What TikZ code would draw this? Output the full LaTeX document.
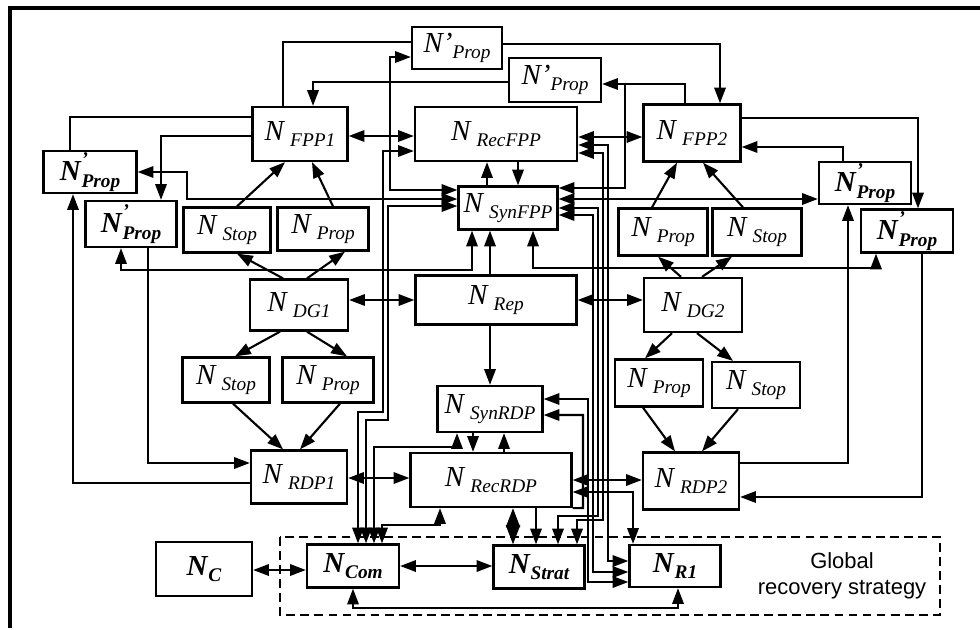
\documentclass[tikz,border=0pt]{standalone}
\usepackage{fontspec}
\setmainfont{Liberation Serif}
\newfontfamily\gsans{Liberation Sans}
\usetikzlibrary{arrows.meta,calc}
\newcommand{\sbf}{\fontsize{11}{12}\selectfont}
\newcommand{\nn}[1]{\textit{N}\,\raisebox{-0.5ex}{\sbf\textit{#1}}}
\newcommand{\nb}[1]{\textbf{\textit{N}}\raisebox{-0.5ex}{\sbf\bfseries\itshape #1}}
\newcommand{\np}{\textit{N'}\raisebox{-0.5ex}{\sbf\textit{Prop}}}
\newcommand{\nq}{\textbf{\textit{N}}\rlap{\raisebox{1.1ex}{\sbf\bfseries\itshape '}}\raisebox{-0.5ex}{\sbf\bfseries\itshape Prop}}
\tikzset{
  blk/.style={draw, line width=1.3pt, inner sep=0pt, font=\fontsize{16.5}{18}\selectfont},
  sz/.style 2 args={minimum width=#1*0.02cm, minimum height=#2*0.02cm},
  ln/.style={line width=1.2pt},
  arr/.style={ln, -{Triangle[length=9pt,width=6.5pt]}},
  darr/.style={ln, {Triangle[length=9pt,width=6.5pt]}-{Triangle[length=9pt,width=6.5pt]}},
}

\begin{document}
\begin{tikzpicture}[x=0.02cm, y=-0.02cm]
\useasboundingbox (0,0) rectangle (980,629);
\draw[line width=1.8pt] (10,628) -- (10,8) -- (980,8);

% nodes
\node[blk, sz={90}{42}] (propA) at (457,48) {\np};
\node[blk, sz={92}{44}] (propB) at (555,80) {\np};
\node[blk, sz={95}{54}] (fpp1) at (300,134) {\nn{FPP1}};
\node[blk, sz={162}{54}] (recfpp) at (496,134) {\nn{RecFPP}};
\node[blk, sz={97}{57}] (fpp2) at (692,133) {\nn{FPP2}};
\node[blk, sz={93}{42}] (propL1) at (90,172) {\nq};
\node[blk, sz={91}{46}] (propL2) at (131,224) {\nq};
\node[blk, sz={87}{45}] (stopFL) at (227,230) {\nn{Stop}};
\node[blk, sz={91}{43}] (propFL) at (323,229) {\nn{Prop}};
\node[blk, sz={99}{43}] (synfpp) at (508,208) {\nn{SynFPP}};
\node[blk, sz={92}{42}] (propR1) at (865,183) {\nq};
\node[blk, sz={92}{43}] (propR2) at (907,231) {\nq};
\node[blk, sz={89}{47}] (propFR) at (663,232) {\nn{Prop}};
\node[blk, sz={89}{47}] (stopFR) at (757,232) {\nn{Stop}};
\node[blk, sz={98}{51}] (dg1) at (299,305) {\nn{DG1}};
\node[blk, sz={161}{49}] (rep) at (496,300) {\nn{Rep}};
\node[blk, sz={98}{54}] (dg2) at (693,305) {\nn{DG2}};
\node[blk, sz={87}{45}] (stopRL) at (226,380) {\nn{Stop}};
\node[blk, sz={91}{45}] (propRL) at (328,380) {\nn{Prop}};
\node[blk, sz={105}{46}] (synrdp) at (490,409) {\nn{SynRDP}};
\node[blk, sz={88}{47}] (propRR) at (659,383) {\nn{Prop}};
\node[blk, sz={88}{46}] (stopRR) at (756,385) {\nn{Stop}};
\node[blk, sz={96}{53}] (rdp1) at (299,477) {\nn{RDP1}};
\node[blk, sz={161}{54}] (recrdp) at (491,480) {\nn{RecRDP}};
\node[blk, sz={96}{57}] (rdp2) at (691,481) {\nn{RDP2}};
\node[blk, sz={96}{54}] (nc) at (204,569) {\nb{C}};
\node[blk, sz={92}{43}] (ncom) at (353,566) {\nb{Com}};
\node[blk, sz={91}{43}] (nstrat) at (539,567) {\nb{Strat}};
\node[blk, sz={91}{42}] (nr1) at (675,566) {\nb{R1}};

\draw[line width=1.2pt, dash pattern=on 5pt off 3pt] (280,537) rectangle (940,615);
\node[font=\gsans\fontsize{12.5}{15}\selectfont, align=center] (gtxt) at (842,576) {Global\\recovery strategy};

% top
\draw[ln] (fpp1.north -| 283,0) |- (propA.west |- 0,42);
\draw[arr] (propA.east |- 0,44) -| (fpp2.north -| 720,0);
\draw[arr] (propB.west |- 0,82) -| (fpp1.north -| 313,0);
\draw[arr] (fpp2.north -| 685,0) |- (propB.east |- 0,84);
\draw[ln, {Triangle[length=9pt,width=6.5pt]}-] (synfpp.east |- 0,188) -| (625,84);
\draw[darr] (propA.west |- 0,57) -| (390,190) -- (synfpp.west |- 0,190);

% left
\draw[ln] (fpp1.west |- 0,117) -| (propL1.north -| 70,0);
\draw[arr] (fpp1.west |- 0,136) -| (propL2.north -| 161,0);
\draw[darr] (propL1.east) -| (187,199) -- (synfpp.west |- 0,199);
\draw[darr] (propL2.south -| 121,0) |- (472,270) -- (synfpp.south -| 472,0);
\draw[arr] (rdp1.west |- 0,483) -| (propL1.south -| 73,0);
\draw[arr] (propL2.south -| 148,0) |- (rdp1.west |- 0,463);
\draw[arr] (stopFL.north -| 237,0) -- (fpp1.south -| 285,0);
\draw[arr] (propFL.north -| 333,0) -- (fpp1.south -| 312,0);
\draw[arr] (dg1.north -| 283,0) -- (stopFL.south -| 237,0);
\draw[arr] (dg1.north -| 307,0) -- (propFL.south -| 345,0);
\draw[arr] (dg1.south -| 280,0) -- (stopRL.north -| 235,0);
\draw[arr] (dg1.south -| 307,0) -- (propRL.north -| 347,0);
\draw[arr] (stopRL.south -| 233,0) -- (rdp1.north -| 283,0);
\draw[arr] (propRL.south -| 340,0) -- (rdp1.north -| 300,0);
\draw[darr] (fpp1.east |- 0,136) -- (recfpp.west |- 0,136);
\draw[darr] (dg1.east |- 0,300) -- (rep.west |- 0,300);
\draw[darr] (rdp1.east |- 0,478) -- (recrdp.west |- 0,478);

% right
\draw[darr] (recfpp.east |- 0,137) -- (fpp2.west |- 0,137);
\draw[arr] (fpp2.east |- 0,118) -| (propR2.north -| 918,0);
\draw[arr] (propR1.north -| 843,0) |- (fpp2.east |- 0,147);
\draw[darr] (synfpp.east |- 0,199) -- (propR1.west |- 0,199);
\draw[darr] (synfpp.south -| 533,0) |- (876,268) -- (propR2.south -| 876,0);
\draw[arr] (rdp2.east |- 0,463) -| (propR1.south -| 848,0);
\draw[arr] (propR2.south -| 922,0) |- (rdp2.east |- 0,497);
\draw[arr] (propFR.north -| 652,0) -- (fpp2.south -| 677,0);
\draw[arr] (stopFR.north -| 743,0) -- (fpp2.south -| 703,0);
\draw[arr] (dg2.north -| 681,0) -- (propFR.south -| 658,0);
\draw[arr] (dg2.north -| 702,0) -- (stopFR.south -| 732,0);
\draw[arr] (dg2.south -| 672,0) -- (propRR.north -| 645,0);
\draw[arr] (dg2.south -| 697,0) -- (stopRR.north -| 733,0);
\draw[arr] (propRR.south -| 643,0) -- (rdp2.north -| 675,0);
\draw[arr] (stopRR.south -| 738,0) -- (rdp2.north -| 702,0);
\draw[darr] (rep.east |- 0,300) -- (dg2.west |- 0,300);
\draw[darr] (recrdp.east |- 0,480) -- (rdp2.west |- 0,480);
\draw[darr] (recrdp.east |- 0,492) -| (nr1.north -| 633,0);

% centre
\draw[arr] (synfpp.north -| 487,0) -- (recfpp.south -| 487,0);
\draw[arr] (recfpp.south -| 518,0) -- (synfpp.north -| 518,0);
\draw[arr] (rep.north -| 490,0) -- (synfpp.south -| 490,0);
\draw[arr] (rep.south -| 490,0) -- (synrdp.north -| 490,0);
\draw[arr] (synrdp.south -| 473,0) -- (recrdp.north -| 473,0);
\draw[arr] (recrdp.north -| 504,0) -- (synrdp.south -| 504,0);
\draw[darr] (ncom.north -| 374,0) |- (457,447) -- (synrdp.south -| 457,0);
\draw[darr] (ncom.north -| 382,0) |- (440,525) -- (recrdp.south -| 440,0);
\draw[darr] (ncom.north -| 358,0) |- (383,412) |- (recfpp.west |- 0,151);
\draw[darr] (ncom.north -| 366,0) |- (388,420) |- (synfpp.west |- 0,206);
\draw[ln, {Triangle[length=11pt,width=8pt]}-{Triangle[length=11pt,width=8pt]}] (recrdp.south -| 513,0) -- (nstrat.north -| 513,0);
\draw[arr] (recrdp.south -| 536,0) -- (nstrat.north -| 536,0);
\draw[darr] (ncom.east |- 0,566) -- (nstrat.west |- 0,566);
\draw[darr] (nc.east |- 0,570) -- (ncom.west |- 0,570);
\draw[darr] (ncom.south -| 353,0) |- (678,608) -- (nr1.south -| 678,0);

% bus
\draw[darr] (recfpp.east |- 0,145) -| (608,561) -- (nr1.west |- 0,561);
\draw[darr] (recfpp.east |- 0,153) -| (603,520) -| (nstrat.north -| 577,0);
\draw[darr] (synfpp.east |- 0,208) -| (598,516) -| (nstrat.north -| 558,0);
\draw[darr] (synfpp.east |- 0,215) -| (593,572) -- (nr1.west |- 0,572);
\draw[darr] (synrdp.east |- 0,399) -| (588,582) -- (nr1.west |- 0,582);
\draw[ln, {Triangle[length=9pt,width=6.5pt]}-] (synrdp.east |- 0,415) -| (583,508) -- (recrdp.south east);
\end{tikzpicture}
\end{document}
